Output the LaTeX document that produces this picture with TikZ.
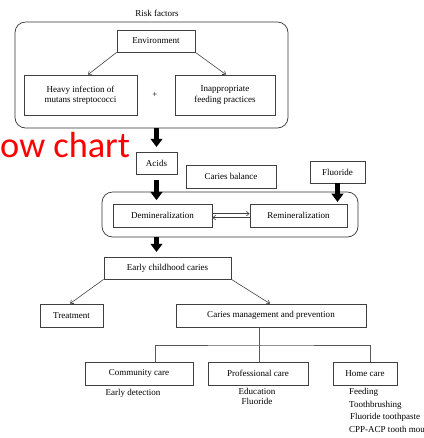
\documentclass[tikz,border=0pt]{standalone}
\usepackage{fontspec}
\setmainfont{Liberation Serif}
\newfontfamily\chartfont{Carlito}
\usetikzlibrary{arrows.meta}

\begin{document}
\begin{tikzpicture}[x=0.03cm, y=-0.03cm, font=\fontsize{7.7}{8.8}\selectfont]

    \tikzstyle{box} = [draw=black!75, rectangle, text centered, inner sep=0, line width=0.6pt];
    \tikzstyle{roundbox} = [draw=black!80, rectangle, rounded corners=9pt, line width=0.6pt, inner sep=0];
    \tikzstyle{arrow} = [draw=black!75, line width=0.5pt, ->, >={Straight Barb[length=2.5pt,width=4pt]}];
    \tikzstyle{bigarrow} = [line width=3.6pt, -{Triangle[width=10pt,length=7pt]}];
    \tikzstyle{link} = [draw=black!65, line width=0.7pt];

    \useasboundingbox (0,0) rectangle (424,438);

    % Risk factors
    \node (RFT) at (157,13) {Risk factors};
    \node[roundbox, minimum width=8.19cm, minimum height=3.18cm] (RF) at (151.5,75) {};

    \node[box, minimum width=2.34cm, minimum height=0.66cm] (ENV) at (156,41) {Environment};
    \node[box, minimum width=3.39cm, minimum height=1.2cm, align=center] (HI) at (80.5,95) {Heavy infection of\\mutans streptococci};
    \node[box, minimum width=3.0cm, minimum height=1.2cm, align=center] (IF) at (225,95) {Inappropriate\\feeding practices};
    \node (PL) at (155,95) {+};

    \draw [arrow] (ENV.south west) -- (HI.north -| 88,0);
    \draw [arrow] (ENV.south east) -- (IF.north -| 226,0);
    % Risk factors

    \node[anchor=base west, inner sep=0, text=red, font=\chartfont\fontsize{31}{31}\selectfont] (OC) at (0,157) {ow chart};

    % Caries balance
    \node[box, minimum width=1.23cm, minimum height=0.66cm] (AC) at (156.5,163) {Acids};
    \node[box, minimum width=2.7cm, minimum height=0.69cm] (CB) at (231,176.5) {Caries balance};
    \node[box, minimum width=1.65cm, minimum height=0.66cm] (FL) at (337.5,172) {Fluoride};

    \node[roundbox, minimum width=7.68cm, minimum height=1.35cm] (BAL) at (230,214.5) {};
    \node[box, minimum width=2.97cm, minimum height=0.69cm] (DM) at (162.5,215.5) {Demineralization};
    \node[box, minimum width=2.91cm, minimum height=0.69cm] (RM) at (298.5,215.5) {Remineralization};

    \draw [arrow] ([yshift=1.6pt]DM.east) -- ([yshift=1.6pt]RM.west);
    \draw [arrow] ([yshift=-1.8pt]RM.west) -- ([yshift=-1.8pt]DM.east);

    \draw [bigarrow, shorten >=4pt] (RF.south -| AC.north) -- (AC.north);
    \draw [bigarrow, shorten <=5pt, shorten >=3pt] (AC.south) -- (DM.north -| AC.south);
    \draw [bigarrow, shorten >=1.5pt] (FL.south) -- (RM.north -| FL.south);
    % Caries balance

    % Management
    \node[box, minimum width=3.81cm, minimum height=0.66cm] (ECC) at (167.5,268) {Early childhood caries};
    \draw [bigarrow, shorten >=4pt] (BAL.south -| AC.south) -- (ECC.north -| AC.south);

    \node[box, minimum width=1.89cm, minimum height=0.69cm] (TR) at (71.5,315.5) {Treatment};
    \node[box, minimum width=5.7cm, minimum height=0.69cm] (CMP) at (271,315.5) {Caries management and prevention};

    \draw [arrow] (ECC.south west) -- (TR.north -| 70,0);
    \draw [arrow] (ECC.south east) -- (CMP.north -| 270,0);

    \node[box, minimum width=3.24cm, minimum height=0.69cm] (CC) at (139,373.5) {Community care};
    \node[box, minimum width=3.0cm, minimum height=0.69cm] (PC) at (258,373.5) {Professional care};
    \node[box, minimum width=1.92cm, minimum height=0.69cm] (HC) at (365,373.5) {Home care};

    \coordinate (BUS) at (259,345);
    \draw [link] (CMP.south -| BUS) -- (PC.north -| BUS);
    \draw [link] (CC.north -| 155,0) |- (BUS) -| (HC.north -| 370,0);

    \node (ED) at (133,393) {Early detection};
    \node[align=center] (EF) at (257,396.5) {Education\\Fluoride};
    \node[anchor=west] (FE) at (345,392) {Feeding};
    \node[anchor=west] (TB) at (345,405) {Toothbrushing};
    \node[anchor=west] (FT) at (346,417) {Fluoride toothpaste};
    \node[anchor=west] (CPP) at (345,429) {CPP-ACP tooth mou};
    % Management

\end{tikzpicture}
\end{document}
